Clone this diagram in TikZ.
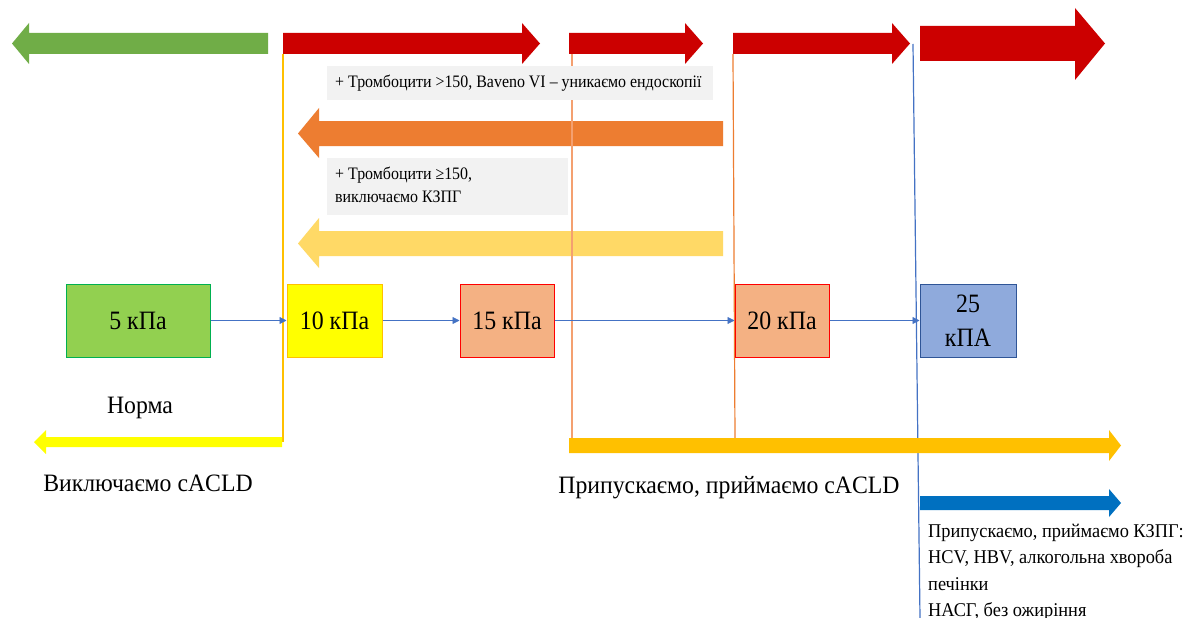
\documentclass[tikz,border=0pt]{standalone}
\usepackage{fontspec}
\usepackage{graphicx}
\setmainfont{Liberation Serif}
\usetikzlibrary{arrows.meta}

\definecolor{cgreen}{HTML}{70AD47}
\definecolor{cred}{HTML}{CC0000}
\definecolor{corange}{HTML}{ED7D31}
\definecolor{clightyellow}{HTML}{FFD966}
\definecolor{cgold}{HTML}{FFC000}
\definecolor{cyellow}{HTML}{FFFF00}
\definecolor{cblue}{HTML}{0070C0}
\definecolor{clink}{HTML}{4472C4}
\definecolor{cgraybox}{HTML}{F2F2F2}
\definecolor{cboxgreen}{HTML}{92D050}
\definecolor{cboxgreenline}{HTML}{00B050}
\definecolor{cboxsalmon}{HTML}{F4B183}
\definecolor{cboxblue}{HTML}{8FAADC}
\definecolor{cboxblueline}{HTML}{2F5597}
\definecolor{clinesalmon}{HTML}{F4A070}

% condensed setting for the box labels
\newcommand\narrowtext[1]{\scalebox{0.9}[1]{#1}}

% right-pointing block arrow: colour, x start, head base, tip, body top, body bottom, head top, head bottom
\newcommand\blockright[8]{%
  \fill[#1] (#2,#5) -- (#3,#5) -- (#3,#7) -- (#4,{(#5+#6)/2}) -- (#3,#8) -- (#3,#6) -- (#2,#6) -- cycle;}
% left-pointing block arrow: colour, x end, head base, tip, body top, body bottom, head top, head bottom
\newcommand\blockleft[8]{%
  \fill[#1] (#2,#5) -- (#3,#5) -- (#3,#7) -- (#4,{(#5+#6)/2}) -- (#3,#8) -- (#3,#6) -- (#2,#6) -- cycle;}

\begin{document}
\begin{tikzpicture}[x=1pt,y=-1pt,
  kpabox/.style={draw, line width=1pt, minimum height=73pt, inner sep=0pt,
    font=\fontsize{26.5}{34}\selectfont, align=center},
  flow/.style={draw=clink, line width=0.8pt, -{Triangle[length=7pt,width=7pt]}},
  notetext/.style={anchor=west, font=\fontsize{17.5}{23}\selectfont, inner sep=0pt, align=left, xscale=0.91},
  label/.style={font=\fontsize{25}{30}\selectfont, inner sep=0pt, xscale=0.95},
  divider/.style={line width=1.2pt}
]
\useasboundingbox (0,0) rectangle (1187,618);
\fill[white] (0,0) rectangle (1187,618);

% top row of block arrows
\blockleft{cgreen}{268}{29}{12}{33}{54}{23}{64}
\blockright{cred}{283}{522}{540}{33}{54}{23}{64}
\blockright{cred}{569}{685}{703}{33}{54}{23}{64}
\blockright{cred}{733}{892}{910}{33}{54}{23}{64}
\blockright{cred}{920}{1075}{1105}{26}{61}{8}{80}

% left-pointing arrows under the notes
\blockleft{corange}{723}{319}{298}{121}{146}{108}{158}
\blockleft{clightyellow}{723}{319}{298}{231}{256}{218}{268}

% threshold lines
\coordinate (g1) at (283,54);
\coordinate (g2) at (283,442);
\coordinate (o1) at (572,54);
\coordinate (o2) at (572,438);
\coordinate (p1) at (733,54);
\coordinate (p2) at (735,438);
\coordinate (b1) at (913,44);
\coordinate (b2) at (920,618);
\draw[divider, cgold] (g1) -- (g2);
\draw[divider, clinesalmon] (o1) -- (o2);
\draw[divider, corange] (p1) -- (p2);
\draw[divider, clink] (b1) -- (b2);

% grey note panels, laid over the threshold lines
\fill[cgraybox] (327,66) rectangle (713,100);
\node[notetext] (n1) at (335,83) {+ Тромбоцити >150, Baveno VI – уникаємо ендоскопії};
\fill[cgraybox] (327,158) rectangle (568,215);
\node[notetext, anchor=north west] (n2) at (335,167) {+ Тромбоцити ≥150,\\виключаємо КЗПГ};

% lower arrows
\blockleft{cyellow}{282}{46}{34}{437}{447}{430}{454}
\blockright{cgold}{569}{1109}{1121}{438}{453}{430}{461}
\blockright{cblue}{920}{1109}{1121}{496}{510}{489}{517}

% stiffness boxes
\node[kpabox, fill=cboxgreen, draw=cboxgreenline, minimum width=144pt] (k5) at (138,320.5) {\narrowtext{5 кПа}};
\node[kpabox, fill=cyellow, draw=cgold, minimum width=95pt] (k10) at (334.5,320.5) {\narrowtext{10 кПа}};
\node[kpabox, fill=cboxsalmon, draw=red, minimum width=94pt] (k15) at (507,320.5) {\narrowtext{15 кПа}};
\node[kpabox, fill=cboxsalmon, draw=red, minimum width=94pt] (k20) at (782,320.5) {\narrowtext{20 кПа}};
\node[kpabox, fill=cboxblue, draw=cboxblueline, minimum width=96pt] (k25) at (968,320.5) {\narrowtext{25}\\\narrowtext{кПА}};

\draw[flow] (k5) -- (k10);
\draw[flow] (k10) -- (k15);
\draw[flow] (k15) -- (k20);
\draw[flow] (k20) -- (k25);

% captions
\node[label] (norm) at (140,408) {Норма};
\node[label] (excl) at (148,483) {Виключаємо cACLD};
\node[label] (incl) at (729,488) {Припускаємо, приймаємо cACLD};
\node[anchor=north west, inner sep=0pt, align=left, xscale=0.94, font=\fontsize{19.5}{26.3}\selectfont] (kzpg) at (928,524)
  {Припускаємо, приймаємо КЗПГ:\\HCV, HBV, алкогольна хвороба\\печінки\\НАСГ, без ожиріння};
\end{tikzpicture}
\end{document}
